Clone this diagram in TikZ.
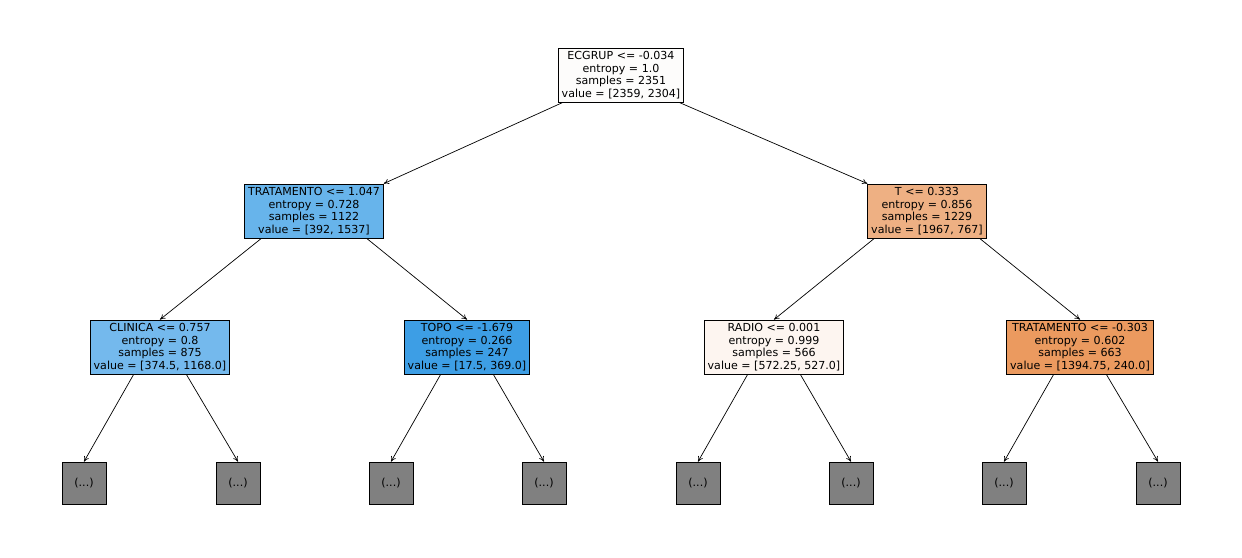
\documentclass[tikz,border=0pt]{standalone}
\usepackage{fontspec}
\setmainfont{DejaVu Sans}
\usetikzlibrary{arrows.meta}
\definecolor{cRoot}{HTML}{FDFCFB}
\definecolor{cLB}{HTML}{67B4EB}
\definecolor{cRO}{HTML}{EEB083}
\definecolor{cCl}{HTML}{74B9ED}
\definecolor{cTo}{HTML}{3D9EE5}
\definecolor{cRa}{HTML}{FDF5F0}
\definecolor{cTr}{HTML}{EB9A5F}
\begin{document}
\begin{tikzpicture}[x=0.02cm,y=-0.02cm,
  tnode/.style={draw=black,line width=0.4pt,align=center,inner sep=2pt,font=\fontsize{6.3pt}{7.1pt}\selectfont},
  leaf/.style={draw=black,fill=gray!100!white,fill=black!50,minimum width=0.88cm,minimum height=0.84cm,inner sep=0pt,font=\fontsize{6.3pt}{7.1pt}\selectfont},
  edge/.style={-{To[length=3pt,width=3pt]},line width=0.4pt}]
\useasboundingbox (0,0) rectangle (1242,558);
\node[tnode,fill=cRoot] (r) at (621,75) {ECGRUP <= -0.034\\entropy = 1.0\\samples = 2351\\value = [2359, 2304]};
\node[tnode,fill=cLB] (a) at (314,211) {TRATAMENTO <= 1.047\\entropy = 0.728\\samples = 1122\\value = [392, 1537]};
\node[tnode,fill=cRO] (b) at (927,211) {T <= 0.333\\entropy = 0.856\\samples = 1229\\value = [1967, 767]};
\node[tnode,fill=cCl] (c) at (160,347) {CLINICA <= 0.757\\entropy = 0.8\\samples = 875\\value = [374.5, 1168.0]};
\node[tnode,fill=cTo] (d) at (467,347) {TOPO <= -1.679\\entropy = 0.266\\samples = 247\\value = [17.5, 369.0]};
\node[tnode,fill=cRa] (e) at (774,347) {RADIO <= 0.001\\entropy = 0.999\\samples = 566\\value = [572.25, 527.0]};
\node[tnode,fill=cTr] (f) at (1080,347) {TRATAMENTO <= -0.303\\entropy = 0.602\\samples = 663\\value = [1394.75, 240.0]};
\foreach \n/\x in {l1/84,l2/238,l3/391,l4/544,l5/698,l6/851,l7/1004,l8/1158}
  \node[leaf] (\n) at (\x,483) {(...)};
\draw[edge] (r.south west) ++(5,0) coordinate (ra) (ra) -- (a.north east);
\draw[edge] (r.south east) ++(-5,0) coordinate (rb) (rb) -- (b.north west);
\draw[edge] ([xshift=-30]a.south) -- (c.north);
\draw[edge] ([xshift=30]a.south) -- (d.north);
\draw[edge] ([xshift=-30]b.south) -- (e.north);
\draw[edge] ([xshift=30]b.south) -- (f.north);
\draw[edge] ([xshift=-15]c.south) -- (l1.north);
\draw[edge] ([xshift=15]c.south) -- (l2.north);
\draw[edge] ([xshift=-15]d.south) -- (l3.north);
\draw[edge] ([xshift=15]d.south) -- (l4.north);
\draw[edge] ([xshift=-15]e.south) -- (l5.north);
\draw[edge] ([xshift=15]e.south) -- (l6.north);
\draw[edge] ([xshift=-15]f.south) -- (l7.north);
\draw[edge] ([xshift=15]f.south) -- (l8.north);
\end{tikzpicture}
\end{document}
